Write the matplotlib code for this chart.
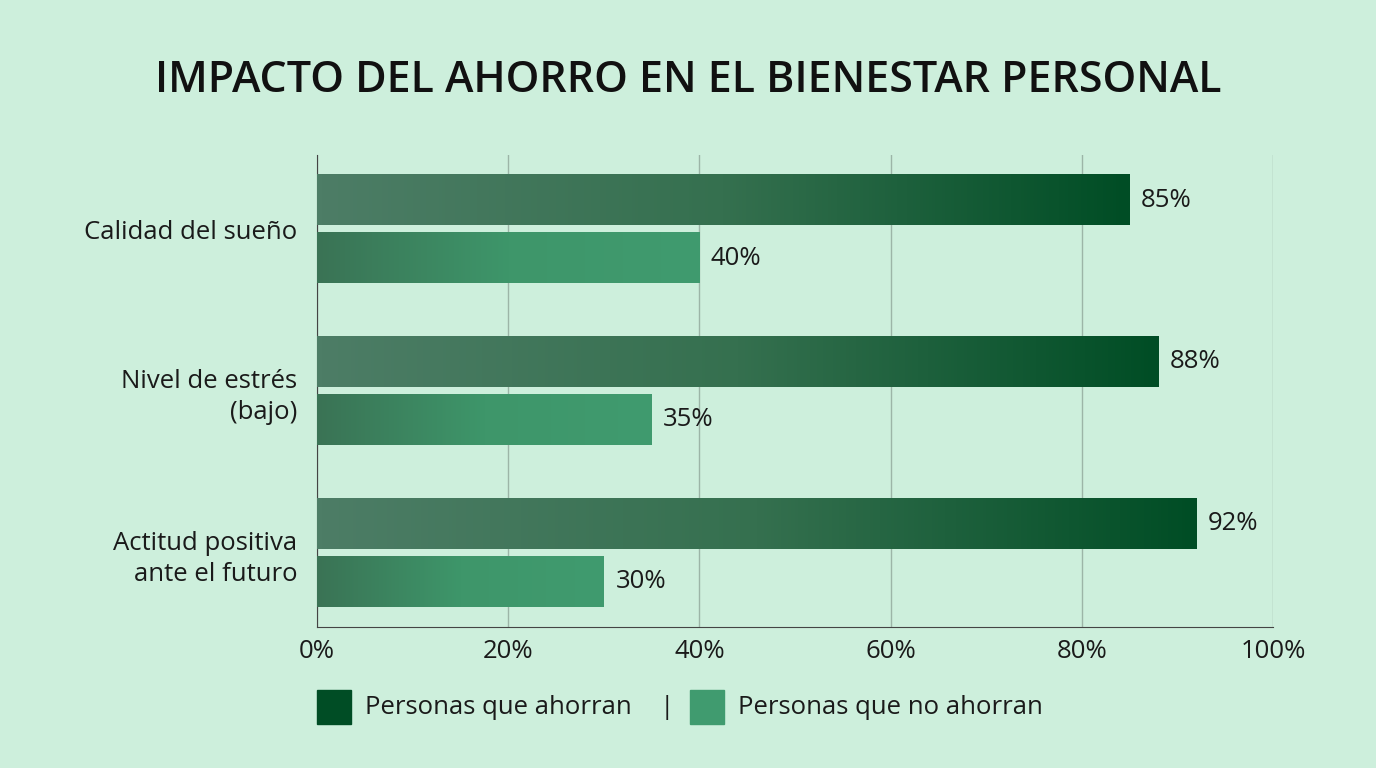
import numpy as np
import matplotlib.pyplot as plt
from matplotlib.colors import LinearSegmentedColormap
from matplotlib.patches import Rectangle

plt.rcParams['font.family'] = ['Open Sans', 'DejaVu Sans']

categories = ["Calidad del sueño", "Nivel de estrés\n(bajo)", "Actitud positiva\nante el futuro"]
ahorran = [85, 88, 92]
no_ahorran = [40, 35, 30]
series_names = ["Personas que ahorran", "Personas que no ahorran"]
xticks = [0, 20, 40, 60, 80, 100]

bg = "#cdefdc"
dark_cmap = LinearSegmentedColormap.from_list("dark", ["#4d7d66", "#35704f", "#004d25"])
light_cmap = LinearSegmentedColormap.from_list("light", ["#3a7355", "#3e966a", "#409b6f"])

fig = plt.figure(figsize=(13.76, 7.68), dpi=100, facecolor=bg)
ax = fig.add_axes([0.2304, 0.1836, 0.6948, 0.6146])
ax.set_facecolor(bg)

ypos = [2, 1, 0]
h = 0.309
off = 0.179
grad = np.linspace(0, 1, 256).reshape(1, -1)

for y, v1, v2 in zip(ypos, ahorran, no_ahorran):
    for v, yc, cmap in [(v1, y + off, dark_cmap), (v2, y - off, light_cmap)]:
        ax.imshow(grad, cmap=cmap, extent=[0, v, yc - h / 2, yc + h / 2],
                  aspect='auto', zorder=3, interpolation='bicubic')
        ax.text(v + 1.2, yc, f"{v}%", va='center', ha='left', fontsize=18.5,
                color="#1a1a1a", zorder=4)

ax.set_xlim(0, 100)
ax.set_ylim(-0.457, 2.457)
ax.set_xticks(xticks)
ax.set_xticklabels([f"{t}%" for t in xticks], fontsize=18.5, color="#1a1a1a")
ax.set_yticks(ypos)
ax.set_yticklabels(categories, fontsize=18.5, color="#1a1a1a", linespacing=1.3)
ax.tick_params(axis='both', length=0)
ax.tick_params(axis='x', pad=9)
ax.tick_params(axis='y', pad=14)

ax.grid(axis='x', color="#9cb5a7", linewidth=1, zorder=0)
ax.set_axisbelow(True)
for s in ['top', 'right']:
    ax.spines[s].set_visible(False)
ax.spines['left'].set_color("#444444")
ax.spines['bottom'].set_color("#444444")

fig.text(0.5, 0.895, "IMPACTO DEL AHORRO EN EL BIENESTAR PERSONAL", ha='center',
         va='center', fontsize=31, fontweight='semibold', color="#111111")

# legend
W, H = 1376, 768
fig.patches.append(Rectangle((317 / W, 1 - 724 / H), 34 / W, 34 / H,
                             transform=fig.transFigure, color="#004d25"))
fig.text(365 / W, 1 - 707 / H, series_names[0], va='center', ha='left',
         fontsize=18.5, color="#1a1a1a")
fig.text(667 / W, 1 - 707 / H, "|", va='center', ha='center', fontsize=19,
         color="#1a1a1a")
fig.patches.append(Rectangle((690 / W, 1 - 724 / H), 34 / W, 34 / H,
                             transform=fig.transFigure, color="#409b6f"))
fig.text(738 / W, 1 - 707 / H, series_names[1], va='center', ha='left',
         fontsize=18.5, color="#1a1a1a")

fig.savefig("out.png", dpi=100, facecolor=bg)
